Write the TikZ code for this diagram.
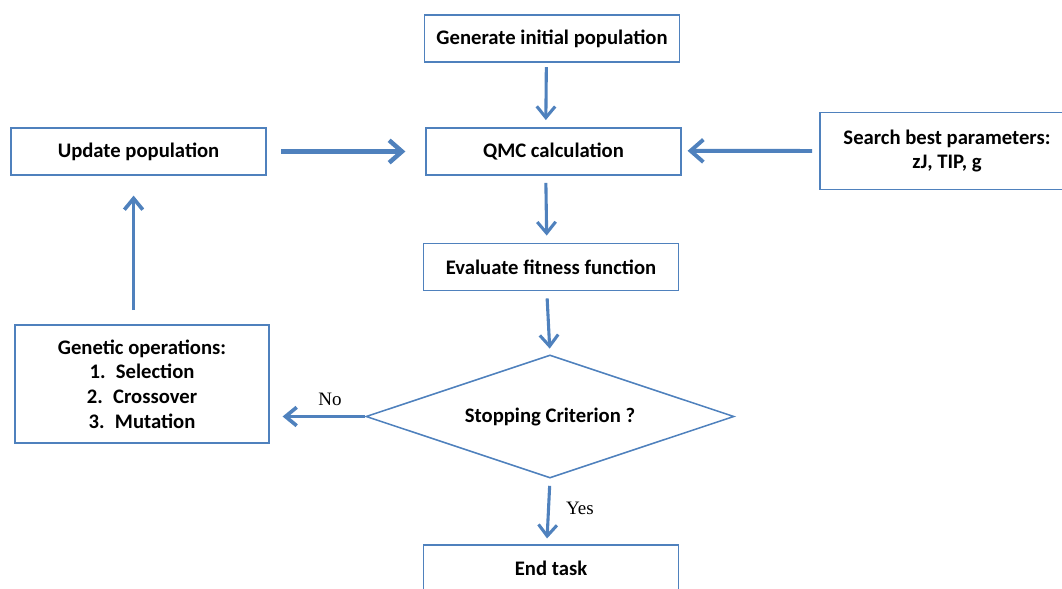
\documentclass[tikz,border=0pt]{standalone}
\usepackage{fontspec}
\setmainfont{Carlito}
\newfontfamily\labelfont{Liberation Serif}
\usepackage{xcolor}
\usetikzlibrary{shapes.geometric,arrows.meta,positioning,calc}
\definecolor{flowblue}{RGB}{79,129,189}

\begin{document}
\begin{tikzpicture}[
    x=0.025cm, y=-0.025cm,
    font=\fontsize{14.7}{17.5}\selectfont\bfseries,
    stepbox/.style={rectangle, draw=flowblue, line width=1.3pt, fill=white, minimum width=6.375cm, minimum height=1.175cm, align=center, inner sep=2pt},
    decide/.style={diamond, draw=flowblue, line width=1.1pt, aspect=3, minimum width=9.2cm, minimum height=3.075cm, inner sep=0pt},
    flow/.style={-{Straight Barb[length=2.8mm, width=4.6mm]}, flowblue, line width=2.2pt},
    bigflow/.style={-{Straight Barb[length=3.2mm, width=5.6mm]}, flowblue, line width=3.2pt},
    yn/.style={text=black, font=\labelfont\fontsize{13.5}{16}\selectfont}
]
\clip (0,0) rectangle (1062,589);
% ----- main column -----
\node[stepbox] (init) at (552,38.5) {Generate initial population};
\node[stepbox] (qmc)  at (553.5,151.5) {QMC calculation};
\node[stepbox] (fit)  at (551,267) {Evaluate fitness function};
\node[decide]  (stop) at (550,416.5) {Stopping Criterion ?};
\node[stepbox] (end)  at (551,568.5) {End task};
% ----- side boxes -----
\node[stepbox] (upd)    at (138.5,151.5) {Update population};
\node[stepbox, minimum width=6.35cm, minimum height=1.925cm] (search) at (947,151) {Search best parameters:\\zJ, TIP, g};
\node[stepbox, minimum width=6.35cm, minimum height=2.95cm] (genop) at (142,384) {Genetic operations:\\1.\enspace Selection\\2.\enspace Crossover\\3.\enspace Mutation};
% ----- connectors -----
\draw[flow, shorten <=3pt, shorten >=5pt] ([xshift=-4]init.south) -- ([xshift=-5.5]qmc.north);
\draw[flow, shorten <=5pt, shorten >=5pt] ([xshift=-5.5]qmc.south) -- ([xshift=-3]fit.north);
\draw[flow, shorten <=5pt, shorten >=4pt] ([xshift=-3]fit.south) -- (stop.north);
\draw[flow, shorten <=5pt, shorten >=4pt] (stop.south) -- ([xshift=-3]end.north)
    node[yn, pos=0.45, right=8pt] (yes) {Yes};
\draw[flow, line width=2.6pt, shorten >=9pt] (stop.west) -- (stop.west -| genop.east)
    node[yn, pos=0.37, above=3pt] (no) {No};
\draw[bigflow, shorten <=10pt, shorten >=14pt] (upd.east) -- (qmc.west);
\draw[bigflow, line width=2.8pt, shorten <=5pt, shorten >=4pt] (search.west) -- ([yshift=0.5]qmc.east);
\draw[flow, line width=2.6pt, shorten <=10pt, shorten >=14pt] ([xshift=-3.5]upd.south |- genop.north) -- ([xshift=-3.5]upd.south);
\end{tikzpicture}
\end{document}
